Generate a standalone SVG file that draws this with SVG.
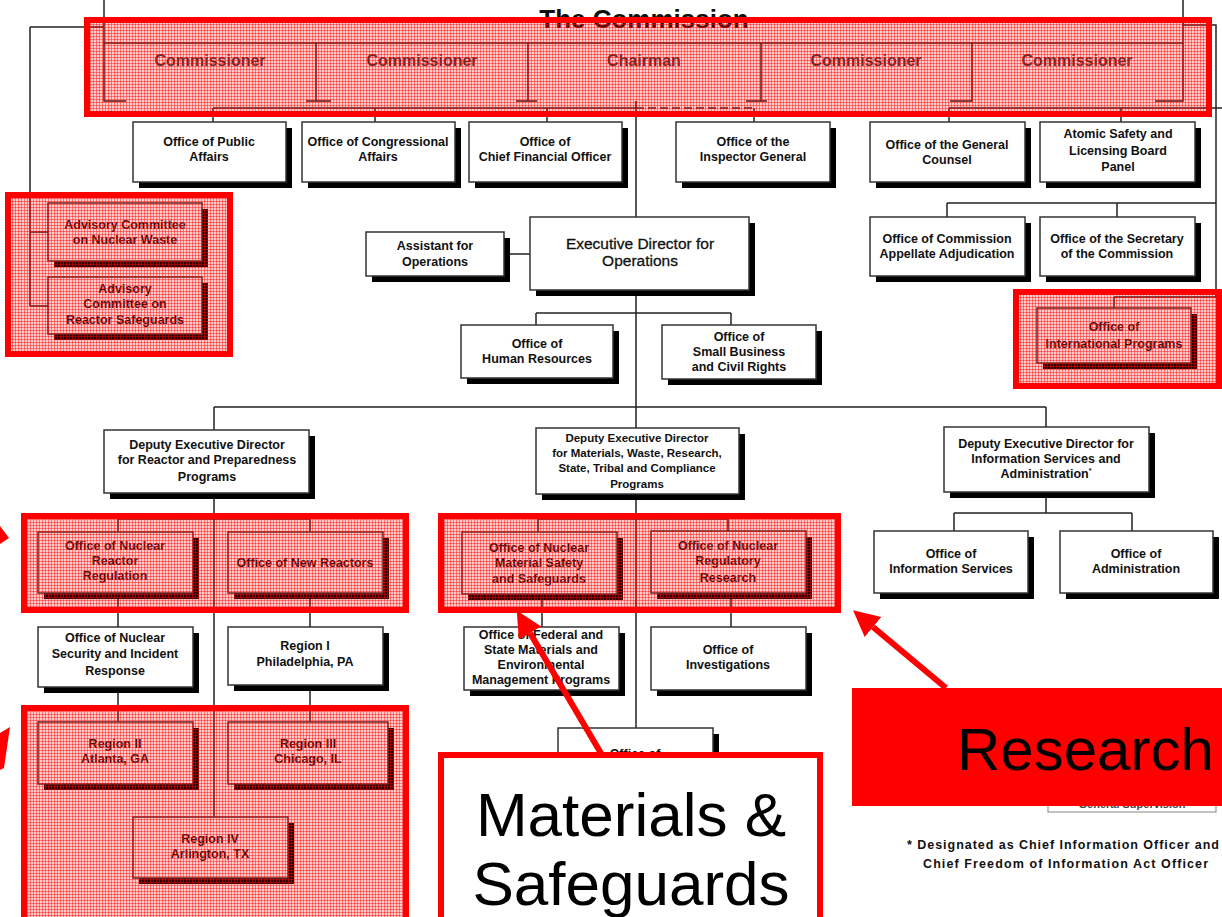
<svg xmlns="http://www.w3.org/2000/svg" width="1222" height="917" viewBox="0 0 1222 917">
<defs>
<style>
.ln{fill:none;stroke:#222;stroke-width:1.5}
.bx{fill:#fff;stroke:#333;stroke-width:1.5}
.sh{fill:#000}
.t{font-family:"Liberation Sans",Arial,sans-serif;font-size:12.5px;font-weight:bold;fill:#111;text-anchor:middle}
.tc{font-family:"Liberation Sans",Arial,sans-serif;font-size:16px;font-weight:bold;fill:#3a3a3a;text-anchor:middle}
.big{font-family:"Liberation Sans",Arial,sans-serif;font-size:62px;fill:#000}
.hl{fill:url(#mesh);stroke:#ff0000;stroke-width:6}
</style>
<pattern id="mesh" width="3" height="3" patternUnits="userSpaceOnUse">
<rect width="3" height="3" fill="#ff0000" fill-opacity="0.2"/>
<path d="M0 0.5H3M0.5 0V3" stroke="#ff0000" stroke-opacity="0.42" stroke-width="1"/>
</pattern>
<marker id="ah" markerUnits="userSpaceOnUse" markerWidth="28" markerHeight="28" refX="0" refY="13" orient="auto">
<path d="M0 0L26 13L0 26z" fill="#ff0000"/>
</marker>
</defs>
<rect width="1222" height="917" fill="#fff"/>

<text x="644" y="28" font-family="Liberation Sans,Arial,sans-serif" font-size="26" font-weight="bold" text-anchor="middle" fill="#111">The Commission</text>

<g id="connectors">
<path class="ln" d="M30 27H104M30 27V306M30 232H48M30 306H48"/>
<path class="ln" d="M1183 25H1216V297M1114 297H1216M1114 297V308M947 203H1216M947 203V217M1117 203V217"/>
<path class="ln" d="M213 108H636" stroke-width="2.5"/>
<path class="ln" d="M636 108H754" stroke-dasharray="8 4"/>
<path class="ln" d="M754 108V122M213 108V122M375 108V122M547 108V122M949 108H1222M949 108V122M1121 108V122"/>
<path class="ln" d="M636 101V217M504 254H530M636 290V728M536 313H731M536 313V325M731 313V325M214 407H1046M214 407V430M1046 407V427"/>
<path class="ln" d="M214 493V817M118 519H310M118 519V532M310 519V532M118 593V627M310 593V627M118 687V722M310 685V722"/>
<path class="ln" d="M538 519H728M538 519V532M728 519V531M542 594V627M731 593V627"/>
<path class="ln" d="M1046 492V513M954 513H1132M954 513V531M1132 513V531"/>
</g>

<g id="commission">
<path class="ln" d="M104 43H1183M104 0V101H126M316 43V101M306 101H331M528 43V101M516 101H537M761 43V101M746 101H767M972 43V101H950M1183 0V101H1155"/>
<text class="tc" x="210" y="66">Commissioner</text>
<text class="tc" x="422" y="66">Commissioner</text>
<text class="tc" x="644" y="66">Chairman</text>
<text class="tc" x="866" y="66">Commissioner</text>
<text class="tc" x="1077" y="66">Commissioner</text>
</g>

<g id="public-affairs"><rect class="sh" x="139" y="128" width="153" height="60"/><rect class="bx" x="133" y="122" width="153" height="60"/><text class="t" x="209" y="146">Office of Public</text><text class="t" x="209" y="161">Affairs</text></g>
<g id="congressional-affairs"><rect class="sh" x="308" y="128" width="153" height="60"/><rect class="bx" x="302" y="122" width="153" height="60"/><text class="t" x="378" y="146">Office of Congressional</text><text class="t" x="378" y="161">Affairs</text></g>
<g id="cfo"><rect class="sh" x="475" y="128" width="153" height="60"/><rect class="bx" x="469" y="122" width="153" height="60"/><text class="t" x="545" y="146">Office of</text><text class="t" x="545" y="161">Chief Financial Officer</text></g>
<g id="inspector-general"><rect class="sh" x="682" y="128" width="154" height="60"/><rect class="bx" x="676" y="122" width="154" height="60"/><text class="t" x="753" y="146">Office of the</text><text class="t" x="753" y="161">Inspector General</text></g>
<g id="general-counsel"><rect class="sh" x="876" y="128" width="155" height="60"/><rect class="bx" x="870" y="122" width="155" height="60"/><text class="t" x="947" y="149">Office of the General</text><text class="t" x="947" y="164">Counsel</text></g>
<g id="aslbp"><rect class="sh" x="1046" y="128" width="155" height="60"/><rect class="bx" x="1040" y="122" width="155" height="60"/><text class="t" x="1118" y="138">Atomic Safety and</text><text class="t" x="1118" y="155">Licensing Board</text><text class="t" x="1118" y="171">Panel</text></g>

<g id="acnw"><rect class="sh" x="54" y="209" width="154" height="58"/><rect class="bx" x="48" y="203" width="154" height="58"/><text class="t" x="125" y="229">Advisory Committee</text><text class="t" x="125" y="244">on Nuclear Waste</text></g>
<g id="acrs"><rect class="sh" x="54" y="283" width="154" height="57"/><rect class="bx" x="48" y="277" width="154" height="57"/><text class="t" x="125" y="293">Advisory</text><text class="t" x="125" y="308">Committee on</text><text class="t" x="125" y="324">Reactor Safeguards</text></g>

<g id="assistant-ops"><rect class="sh" x="372" y="238" width="138" height="44"/><rect class="bx" x="366" y="232" width="138" height="44"/><text class="t" x="435" y="250">Assistant for</text><text class="t" x="435" y="266">Operations</text></g>
<g id="edo"><rect class="sh" x="536" y="223" width="219" height="73"/><rect class="bx" x="530" y="217" width="219" height="73"/><text class="t" x="640" y="249" style="font-size:15.5px;font-weight:normal;stroke:#111;stroke-width:0.3">Executive Director for</text><text class="t" x="640" y="266" style="font-size:15.5px;font-weight:normal;stroke:#111;stroke-width:0.3">Operations</text></g>

<g id="appellate"><rect class="sh" x="876" y="223" width="155" height="59"/><rect class="bx" x="870" y="217" width="155" height="59"/><text class="t" x="947" y="243">Office of  Commission</text><text class="t" x="947" y="258">Appellate Adjudication</text></g>
<g id="secretary"><rect class="sh" x="1046" y="223" width="155" height="59"/><rect class="bx" x="1040" y="217" width="155" height="59"/><text class="t" x="1117" y="243">Office of the Secretary</text><text class="t" x="1117" y="258">of the Commission</text></g>
<g id="intl-programs"><rect class="sh" x="1043" y="314" width="154" height="55"/><rect class="bx" x="1037" y="308" width="154" height="55"/><text class="t" x="1114" y="331">Office of</text><text class="t" x="1114" y="348">International Programs</text></g>

<g id="human-resources"><rect class="sh" x="467" y="331" width="152" height="53"/><rect class="bx" x="461" y="325" width="152" height="53"/><text class="t" x="537" y="348">Office of</text><text class="t" x="537" y="363">Human Resources</text></g>
<g id="small-business"><rect class="sh" x="668" y="331" width="154" height="54"/><rect class="bx" x="662" y="325" width="154" height="54"/><text class="t" x="739" y="341">Office of</text><text class="t" x="739" y="356">Small Business</text><text class="t" x="739" y="371">and Civil Rights</text></g>

<g id="ded-reactor"><rect class="sh" x="110" y="436" width="205" height="63"/><rect class="bx" x="104" y="430" width="205" height="63"/><text class="t" x="207" y="449">Deputy Executive Director</text><text class="t" x="207" y="464">for Reactor and Preparedness</text><text class="t" x="207" y="481">Programs</text></g>
<g id="ded-materials"><rect class="sh" x="542" y="434" width="203" height="66"/><rect class="bx" x="536" y="428" width="203" height="66"/><text class="t" x="637" y="442" style="font-size:11.5px">Deputy Executive Director</text><text class="t" x="637" y="457" style="font-size:11.5px">for Materials, Waste, Research,</text><text class="t" x="637" y="472" style="font-size:11.5px">State, Tribal and Compliance</text><text class="t" x="637" y="488" style="font-size:11.5px">Programs</text></g>
<g id="ded-info"><rect class="sh" x="950" y="433" width="205" height="65"/><rect class="bx" x="944" y="427" width="205" height="65"/><text class="t" x="1046" y="448">Deputy Executive Director for</text><text class="t" x="1046" y="463">Information Services and</text><text class="t" x="1046" y="478">Administration<tspan font-size="7" dy="-5">*</tspan></text></g>

<g id="nrr"><rect class="sh" x="44" y="538" width="155" height="61"/><rect class="bx" x="38" y="532" width="155" height="61"/><text class="t" x="115" y="550">Office of Nuclear</text><text class="t" x="115" y="565">Reactor</text><text class="t" x="115" y="580">Regulation</text></g>
<g id="nro"><rect class="sh" x="234" y="538" width="155" height="61"/><rect class="bx" x="228" y="532" width="155" height="61"/><text class="t" x="305" y="567">Office of New Reactors</text></g>
<g id="nsir"><rect class="sh" x="44" y="633" width="155" height="60"/><rect class="bx" x="38" y="627" width="155" height="60"/><text class="t" x="115" y="642">Office of Nuclear</text><text class="t" x="115" y="658">Security and Incident</text><text class="t" x="115" y="675">Response</text></g>
<g id="region1"><rect class="sh" x="234" y="633" width="155" height="58"/><rect class="bx" x="228" y="627" width="155" height="58"/><text class="t" x="305" y="650">Region I</text><text class="t" x="305" y="666">Philadelphia, PA</text></g>
<g id="region2"><rect class="sh" x="44" y="728" width="155" height="62"/><rect class="bx" x="38" y="722" width="155" height="62"/><text class="t" x="115" y="748">Region II</text><text class="t" x="115" y="763">Atlanta, GA</text></g>
<g id="region3"><rect class="sh" x="234" y="728" width="160" height="62"/><rect class="bx" x="228" y="722" width="160" height="62"/><text class="t" x="308" y="748">Region III</text><text class="t" x="308" y="763">Chicago, IL</text></g>
<g id="region4"><rect class="sh" x="139" y="823" width="155" height="61"/><rect class="bx" x="133" y="817" width="155" height="61"/><text class="t" x="210" y="843">Region IV</text><text class="t" x="210" y="858">Arlington, TX</text></g>

<g id="nmss"><rect class="sh" x="468" y="538" width="155" height="62"/><rect class="bx" x="462" y="532" width="155" height="62"/><text class="t" x="539" y="552">Office of Nuclear</text><text class="t" x="539" y="567">Material Safety</text><text class="t" x="539" y="583">and Safeguards</text></g>
<g id="research"><rect class="sh" x="657" y="537" width="155" height="62"/><rect class="bx" x="651" y="531" width="155" height="62"/><text class="t" x="728" y="550">Office of Nuclear</text><text class="t" x="728" y="565">Regulatory</text><text class="t" x="728" y="582">Research</text></g>
<g id="fsme"><rect class="sh" x="470" y="633" width="155" height="63"/><rect class="bx" x="464" y="627" width="155" height="63"/><text class="t" x="541" y="639">Office of Federal and</text><text class="t" x="541" y="654">State Materials and</text><text class="t" x="541" y="669">Environmental</text><text class="t" x="541" y="684">Management Programs</text></g>
<g id="investigations"><rect class="sh" x="657" y="633" width="155" height="63"/><rect class="bx" x="651" y="627" width="155" height="63"/><text class="t" x="728" y="654">Office of</text><text class="t" x="728" y="669">Investigations</text></g>
<g id="office-of"><rect class="sh" x="564" y="734" width="155" height="60"/><rect class="bx" x="558" y="728" width="155" height="60"/><text class="t" x="635" y="758">Office of</text></g>

<g id="ois"><rect class="sh" x="880" y="537" width="154" height="62"/><rect class="bx" x="874" y="531" width="154" height="62"/><text class="t" x="951" y="558">Office of</text><text class="t" x="951" y="573">Information Services</text></g>
<g id="admin"><rect class="sh" x="1066" y="537" width="153" height="62"/><rect class="bx" x="1060" y="531" width="153" height="62"/><text class="t" x="1136" y="558">Office of</text><text class="t" x="1136" y="573">Administration</text></g>

<g id="supervision"><rect x="1048" y="790" width="168" height="22" fill="#fff" stroke="#999" stroke-width="1.2"/><text class="t" x="1132" y="808" style="font-size:11px;fill:#444">General Supervision</text></g>

<g id="footnote"><text class="t" x="907" y="849" style="text-anchor:start" textLength="312" lengthAdjust="spacing">* Designated as Chief Information Officer and</text><text class="t" x="923" y="868" style="text-anchor:start" textLength="285" lengthAdjust="spacing">Chief Freedom of Information Act Officer</text></g>

<g id="highlights">
<rect class="hl" x="87" y="20" width="1122" height="94"/>
<rect class="hl" x="8" y="195" width="222" height="159"/>
<rect class="hl" x="1016" y="292" width="203" height="94"/>
<rect class="hl" x="24" y="516" width="382" height="94"/>
<rect class="hl" x="441" y="516" width="397" height="94"/>
<rect class="hl" x="24" y="708" width="382" height="215"/>
</g>

<g id="callouts">
<path d="M602 755L530 633" stroke="#ff0000" stroke-width="6" fill="none" marker-end="url(#ah)"/>
<path d="M946 688L873 627" stroke="#ff0000" stroke-width="6" fill="none" marker-end="url(#ah)"/>
<polygon points="0,526 9,538 0,544" fill="#ff0000"/>
<polygon points="0,733 10,727 4,768 0,770" fill="#ff0000"/>
<rect x="441" y="755" width="379" height="170" fill="#fff" stroke="#ff0000" stroke-width="6"/>
<text class="big" x="631" y="836" text-anchor="middle">Materials &amp;</text>
<text class="big" x="631" y="905" text-anchor="middle">Safeguards</text>
<rect x="852" y="688" width="375" height="118" fill="#ff0000"/>
<text class="big" x="957" y="770" style="font-size:60px">Research</text>
</g>
</svg>
